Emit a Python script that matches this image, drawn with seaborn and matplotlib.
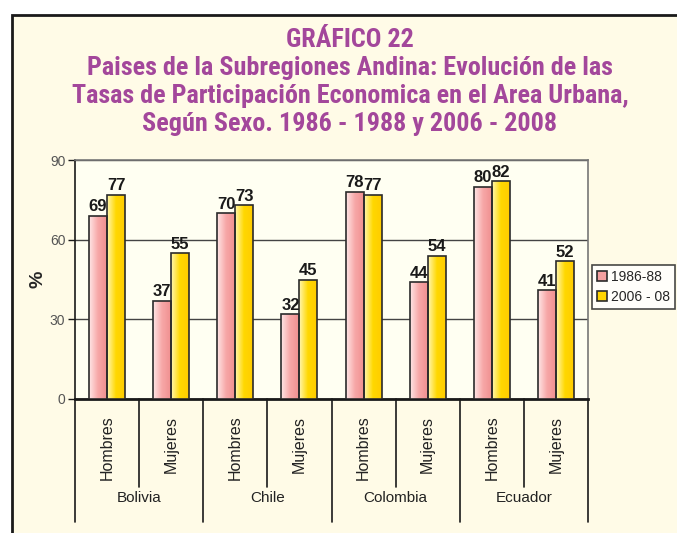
import matplotlib.pyplot as plt
import seaborn as sns
import pandas as pd
import numpy as np
from matplotlib.patches import Rectangle
from matplotlib.colors import LinearSegmentedColormap
import matplotlib.transforms as mtransforms

countries = ["Bolivia", "Chile", "Colombia", "Ecuador"]
sexes = ["Hombres", "Mujeres"]
periods = ["1986-88", "2006 - 08"]
v_1986 = [69, 37, 70, 32, 78, 44, 80, 41]
v_2006 = [77, 55, 73, 45, 77, 54, 82, 52]

title = ("GRÁFICO 22\nPaises de la Subregiones Andina: Evolución de las\n"
         "Tasas de Participación Economica en el Area Urbana,\n"
         "Según Sexo. 1986 - 1988 y 2006 - 2008")

cats = [f"{c}|{s}" for c in countries for s in sexes]
df = pd.DataFrame({
    "cat": cats * 2,
    "valor": v_1986 + v_2006,
    "periodo": [periods[0]] * 8 + [periods[1]] * 8,
})

sns.set_style("white")
plt.rcParams["font.family"] = ["Liberation Sans", "DejaVu Sans"]

W, H = 677, 533
fig = plt.figure(figsize=(W / 100, H / 100), dpi=100)
fig.patch.set_facecolor("white")
# outer cream panel with black frame
fig.patches.append(Rectangle((12 / W, -0.05), 1.0, 1.05 - 15 / H, transform=fig.transFigure,
                             facecolor="#FFFBE7", edgecolor="#1a1a1a", lw=2, zorder=-5))

ax = fig.add_axes([75 / W, 1 - 399 / H, 513 / W, 239 / H])
ax.set_facecolor("#FFFFF2")

pal = {periods[0]: "#F4A0A0", periods[1]: "#FFD400"}
sns.barplot(data=df, x="cat", y="valor", hue="periodo", order=cats, hue_order=periods,
            palette=pal, width=0.56, edgecolor="#2b2b2b", linewidth=1.2,
            saturation=1, ax=ax, zorder=3)

# gradient fill on bars
cmaps = [LinearSegmentedColormap.from_list("p", ["#FFE6E6", "#F7A8A8", "#F09090"]),
         LinearSegmentedColormap.from_list("y", ["#FFF6B0", "#FFD800", "#FFCC00"])]
grad = np.linspace(0, 1, 64).reshape(1, -1)
for cont, cm in zip(ax.containers, cmaps):
    for p in cont:
        x0, w, h = p.get_x(), p.get_width(), p.get_height()
        im = ax.imshow(grad, extent=[x0, x0 + w, 0, h], aspect="auto", cmap=cm,
                       zorder=3.5, origin="lower")
        im.set_clip_path(p)
        p.set_zorder(4)
        p.set_facecolor("none")
    ax.bar_label(cont, padding=1, fontsize=12, fontweight="bold", color="#1a1a1a", zorder=5)

ax.set_xlim(-0.5, 7.5)
ax.set_ylim(0, 90)
ax.set_yticks([0, 30, 60, 90])
ax.tick_params(axis="y", labelsize=10, labelcolor="#555555", length=5, width=1,
               color="#1a1a1a", direction="out", left=True, pad=2)
ax.yaxis.grid(True, color="#444444", lw=1, zorder=1)
ax.set_axisbelow(True)

ax.set_xticks(range(8))
ax.set_xticklabels(sexes * 4, rotation=90, fontsize=11.5, color="#222222", va="top")
ax.tick_params(axis="x", length=0, pad=12)
ax.set_xlabel("")
ax.set_ylabel("%", fontsize=14, fontweight="bold", labelpad=2)

for s in ["top", "right"]:
    ax.spines[s].set_color("#777777")
    ax.spines[s].set_linewidth(1.2)
ax.spines["left"].set_color("#1a1a1a")
ax.spines["left"].set_linewidth(1.2)
ax.spines["bottom"].set_color("#1a1a1a")
ax.spines["bottom"].set_linewidth(2)

# category separators below the axis
trans = mtransforms.blended_transform_factory(ax.transData, ax.transAxes)
for i in range(9):
    x = i - 0.5
    low = -123 / 239 if i % 2 == 0 else -88 / 239
    ax.plot([x, x], [0, low], transform=trans, color="#1a1a1a", lw=1.2, clip_on=False)
for j, c in enumerate(countries):
    ax.text(2 * j + 0.5, -99 / 239, c, transform=trans, ha="center", va="center",
            fontsize=11, color="#222222")

leg = ax.legend(loc="center left", bbox_to_anchor=(1.008, 0.47), frameon=True,
                fontsize=10, handlelength=0.75, handleheight=0.75, handletextpad=0.25,
                borderpad=0.35, labelspacing=0.45, fancybox=False, borderaxespad=0)
leg.get_frame().set_edgecolor("#1a1a1a")
leg.get_frame().set_linewidth(1.2)
for hnd, c in zip(leg.legend_handles, ["#F4A0A0", "#FFD400"]):
    hnd.set_facecolor(c)
    hnd.set_edgecolor("#2b2b2b")

fig.text(350 / W, 1 - 82 / H, title, ha="center", va="center", fontsize=18.8,
         fontweight="bold", color="#A3479B", family=["Roboto Condensed", "DejaVu Sans"],
         linespacing=1.22)

fig.savefig("out.png", dpi=100)
